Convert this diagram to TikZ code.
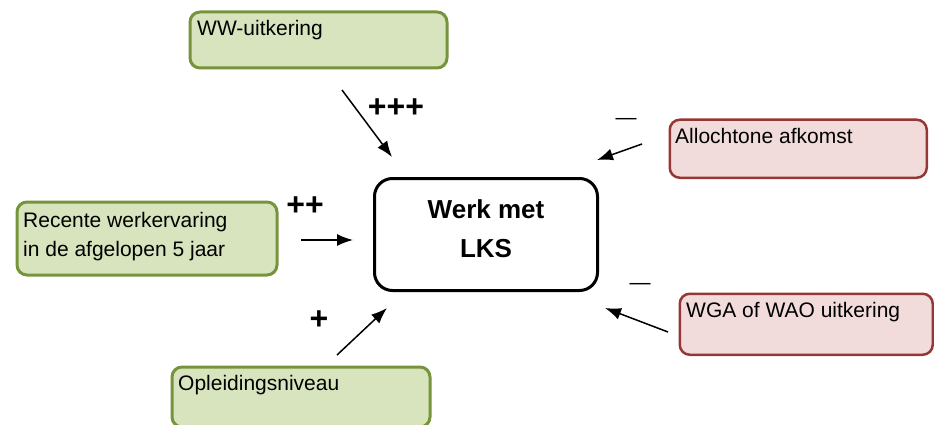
\documentclass[tikz,border=0pt]{standalone}
\usepackage{fontspec}
\setmainfont{Liberation Sans}
\usetikzlibrary{arrows.meta}

\definecolor{groenvul}{HTML}{D7E4BD}
\definecolor{groenrand}{HTML}{77933C}
\definecolor{roodvul}{HTML}{F2DCDB}
\definecolor{roodrand}{HTML}{953735}

\begin{document}
\begin{tikzpicture}[x=1pt,y=-1pt]
\tikzstyle{groen} = [draw=groenrand, fill=groenvul, line width=3pt, rounded corners=10pt, anchor=north west, inner sep=0pt]
\tikzstyle{rood} = [draw=roodrand, fill=roodvul, line width=2.5pt, rounded corners=10pt, anchor=north west, inner sep=0pt]
\tikzstyle{tekst} = [anchor=base west, inner sep=0pt, font=\fontsize{21}{29}\selectfont]
\tikzstyle{teken} = [inner sep=0pt, font=\bfseries\fontsize{32}{32}\selectfont]
\tikzstyle{pijl} = [-{Latex[length=16pt,width=12pt]}, line width=1.5pt]
\useasboundingbox (0,0) rectangle (934,425);

% centrale uitkomst
\node [draw, line width=3pt, rounded corners=18pt, minimum width=223pt, minimum height=112pt, inner sep=0pt] (werk) at (486,234.5) {};
\node [inner sep=0pt, align=center, font=\bfseries\fontsize{26}{39}\selectfont] (werkt) at (486,228.5) {Werk met\\LKS};

% factoren
\node [groen, minimum width=257pt, minimum height=56pt] (ww) at (188.5,10.5) {};
\node [tekst] (wwt) at (197,36) {WW-uitkering};
\node [groen, minimum width=260pt, minimum height=73pt] (recent) at (15.5,200.5) {};
\node [tekst, anchor=north west, align=left] (recentt) at (23,212.5) {Recente werkervaring\\in de afgelopen 5 jaar};
\node [groen, minimum width=258pt, minimum height=60pt] (opl) at (170.5,365.5) {};
\node [tekst] (oplt) at (178,390) {Opleidingsniveau};
\node [rood, minimum width=257pt, minimum height=58pt] (allo) at (668.5,118.5) {};
\node [tekst] (allot) at (675,143) {Allochtone afkomst};
\node [rood, minimum width=253pt, minimum height=61pt] (wga) at (678.5,292.5) {};
\node [tekst] (wgat) at (686,317) {WGA of WAO uitkering};

% effecten
\node [teken] (p3) at (396,108) {+++};
\node [teken] (p2) at (305,206) {++};
\node [teken] (p1) at (319,320) {+};
\node [inner sep=0pt, font=\fontsize{21}{21}\selectfont] (m1) at (626,121) {---};
\node [inner sep=0pt, font=\fontsize{21}{21}\selectfont] (m2) at (640,286) {---};

\coordinate (s1) at (342,90);
\coordinate (t1) at (392,157);
\coordinate (s2) at (301,240);
\coordinate (t2) at (353,240);
\coordinate (s3) at (337,355);
\coordinate (t3) at (387,308);
\coordinate (s4) at (642,144);
\coordinate (t4) at (597,160);
\coordinate (s5) at (668,332);
\coordinate (t5) at (605,308);
\draw [pijl] (s1) -- (t1);
\draw [pijl] (s2) -- (t2);
\draw [pijl] (s3) -- (t3);
\draw [pijl] (s4) -- (t4);
\draw [pijl] (s5) -- (t5);
\end{tikzpicture}
\end{document}
